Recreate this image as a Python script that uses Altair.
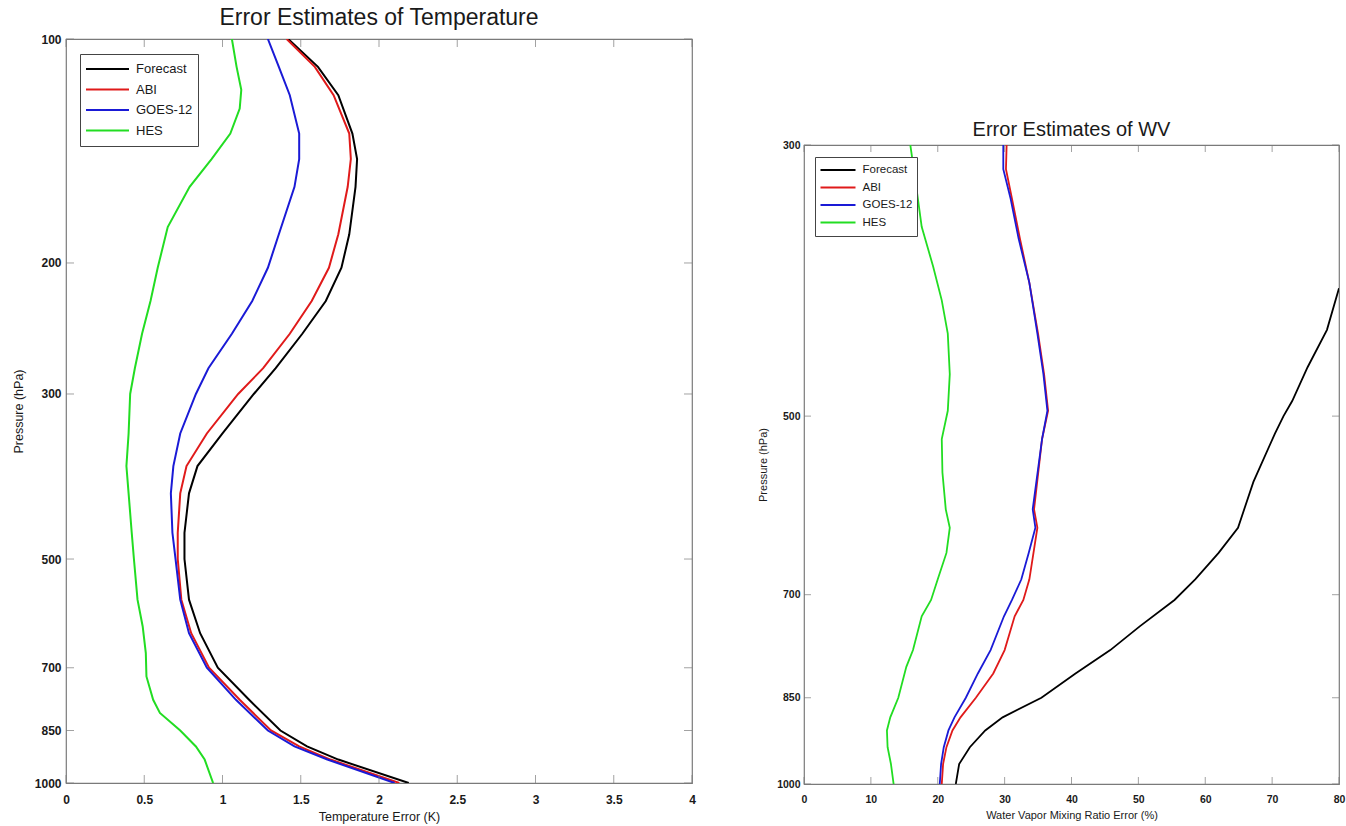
import altair as alt
import pandas as pd

SERIES = ["Forecast", "ABI", "GOES-12", "HES"]
COLORS = ["#000000", "#e01a1a", "#1a1ad6", "#22dd22"]

# ---------------- Temperature panel (error in K vs pressure hPa) ----------------
T_P = [100, 109, 119, 134, 145, 158, 183, 203, 225, 249, 277, 300, 339, 375,
       408, 461, 500, 567, 629, 700, 773, 850, 893, 930, 1000]
T_FORECAST = [1.42, 1.61, 1.74, 1.83, 1.86, 1.85, 1.81, 1.76, 1.66, 1.51, 1.34, 1.20, 1.00, 0.84,
              0.786, 0.757, 0.757, 0.786, 0.857, 0.97, 1.17, 1.37, 1.54, 1.74, 2.19]
T_ABI = [1.41, 1.59, 1.71, 1.81, 1.82, 1.80, 1.74, 1.68, 1.57, 1.43, 1.26, 1.10, 0.90, 0.77,
         0.73, 0.714, 0.714, 0.737, 0.80, 0.914, 1.11, 1.31, 1.49, 1.69, 2.13]
T_GOES = [1.29, 1.36, 1.43, 1.49, 1.49, 1.46, 1.36, 1.29, 1.19, 1.06, 0.91, 0.83, 0.73, 0.686,
          0.67, 0.68, 0.70, 0.73, 0.786, 0.90, 1.086, 1.29, 1.46, 1.67, 2.10]
T_HES_P = [100, 109, 117, 124, 134, 145, 158, 179, 203, 225, 249, 277, 300, 339, 375, 408,
           461, 500, 567, 616, 669, 719, 773, 805, 850, 893, 930, 1000]
T_HES = [1.06, 1.09, 1.12, 1.11, 1.05, 0.93, 0.79, 0.65, 0.586, 0.54, 0.486, 0.44, 0.41, 0.40,
         0.386, 0.40, 0.42, 0.434, 0.457, 0.49, 0.51, 0.514, 0.557, 0.60, 0.73, 0.83, 0.886, 0.94]
T_XTICKS = [0, 0.5, 1, 1.5, 2, 2.5, 3, 3.5, 4]
T_YTICKS = [100, 200, 300, 500, 700, 850, 1000]

# ---------------- Water vapour panel (error in % vs pressure hPa) ----------------
W_FORECAST_P = [393, 425, 456, 486, 500, 517, 566, 617, 647, 680, 707, 743, 777, 812, 850,
                882, 904, 933, 963, 1000]
W_FORECAST = [80, 78.2, 75.3, 73.0, 71.7, 70.4, 67.2, 64.9, 62.0, 58.5, 55.4, 50.2, 45.8, 40.6,
              35.5, 29.7, 27.1, 24.8, 23.2, 22.7]
W_ABI_P = [300, 314, 332, 358, 389, 428, 462, 495, 522, 596, 617, 680, 707, 729, 777, 812, 850,
           882, 904, 933, 963, 1000]
W_ABI = [30.3, 30.2, 31.1, 32.3, 33.7, 35.0, 35.9, 36.5, 35.6, 34.4, 34.9, 33.7, 32.8, 31.5,
         30.0, 28.3, 25.7, 23.4, 22.2, 21.3, 20.8, 20.6]
W_GOES_P = [300, 314, 332, 358, 389, 428, 462, 495, 522, 596, 617, 647, 680, 707, 729, 777,
            812, 850, 882, 904, 933, 963, 1000]
W_GOES = [29.8, 29.8, 30.9, 32.1, 33.7, 34.9, 35.8, 36.4, 35.6, 34.2, 34.6, 33.6, 32.5, 31.1,
          29.9, 27.9, 26.0, 24.2, 22.5, 21.6, 20.9, 20.5, 20.3]
W_HES_P = [300, 322, 350, 377, 402, 428, 462, 495, 522, 556, 596, 617, 647, 680, 707, 729, 777,
           802, 850, 882, 904, 933, 963, 1000]
W_HES = [15.9, 16.7, 17.6, 19.3, 20.6, 21.5, 21.8, 21.5, 20.6, 20.7, 21.2, 21.8, 21.3, 20.0,
         19.0, 17.6, 16.3, 15.3, 14.1, 12.9, 12.4, 12.5, 13.0, 13.4]
W_XTICKS = [0, 10, 20, 30, 40, 50, 60, 70, 80]
W_YTICKS = [300, 500, 700, 850, 1000]

FONT = "Liberation Sans"
FRAME = "#7a7a7a"
TEXT = "#1a1a1a"


def long_df(parts):
    rows = []
    for name, ps, vs in parts:
        for p, v in zip(ps, vs):
            rows.append({"series": name, "p": p, "err": v})
    return pd.DataFrame(rows)


def panel(df, xdom, xticks, yticks, title, xtitle, w, h, s):
    xs = alt.Scale(domain=xdom, nice=False, zero=False)
    ys = alt.Scale(type="log", domain=[yticks[0], yticks[-1]], reverse=True, nice=False)
    xaxis = alt.Axis(
        values=xticks, format=s["xfmt"], title=xtitle, grid=False, ticks=False, tickSize=0,
        domain=False, labelFlush=False, labelOverlap=False,
        labelFont=FONT, labelFontSize=s["lab"], labelFontWeight="bold", labelColor=TEXT,
        labelPadding=s["xlp"], titleFont=FONT, titleFontSize=s["tt"],
        titleFontWeight="normal", titleColor=TEXT, titlePadding=s["xtp"])
    yaxis = alt.Axis(
        values=yticks, format="d", title="Pressure (hPa)", grid=False, ticks=False,
        tickSize=0, domain=False, labelFlush=False, labelOverlap=False,
        labelFont=FONT, labelFontSize=s["lab"], labelFontWeight="bold", labelColor=TEXT,
        labelPadding=s["ylp"], titleFont=FONT, titleFontSize=s["tt"],
        titleFontWeight="normal", titleColor=TEXT, titlePadding=s["ytp"])
    lines = alt.Chart(df).mark_line(clip=True, strokeWidth=s["lw"]).encode(
        x=alt.X("err:Q", scale=xs, axis=xaxis),
        y=alt.Y("p:Q", scale=ys, axis=yaxis),
        color=alt.Color("series:N", scale=alt.Scale(domain=SERIES, range=COLORS),
                        sort=SERIES,
                        legend=alt.Legend(
                            title=None, orient="none", legendX=s["lx"], legendY=s["ly"],
                            symbolType="stroke", symbolSize=s["sym"] ** 2,
                            symbolStrokeWidth=2, clipHeight=s["ch"], rowPadding=0.5,
                            padding=s["pad"], labelOffset=6, labelFont=FONT,
                            labelFontSize=s["lf"], labelColor=TEXT, strokeColor="#444444",
                            fillColor="white", direction="vertical", labelLimit=300)),
        order="p:Q",
    )
    tk = s["tick"]
    ydf = pd.DataFrame({"p": yticks})
    xdf = pd.DataFrame({"err": xticks})
    layers = [lines]
    for xv, off in [(xdom[0], tk / 2), (xdom[1], -tk / 2)]:
        layers.append(alt.Chart(ydf).mark_tick(orient="horizontal", size=tk, thickness=1,
                                               color=FRAME, xOffset=off).encode(
            x=alt.X(datum=xv, scale=xs, axis=xaxis), y=alt.Y("p:Q", scale=ys, axis=yaxis)))
    for yv, off in [(yticks[0], tk / 2), (yticks[-1], -tk / 2)]:
        layers.append(alt.Chart(xdf).mark_tick(orient="vertical", size=tk, thickness=1,
                                               color=FRAME, yOffset=off).encode(
            x=alt.X("err:Q", scale=xs, axis=xaxis), y=alt.Y(datum=yv, scale=ys, axis=yaxis)))
    return alt.layer(*layers).properties(
        width=w, height=h,
        title=alt.TitleParams(title, font=FONT, fontSize=s["title"], fontWeight="normal",
                              color=TEXT, anchor="middle", baseline="alphabetic",
                              offset=s["toff"]),
        view=alt.ViewBackground(stroke=FRAME, strokeWidth=1.2),
    )


t_df = long_df([("Forecast", T_P, T_FORECAST), ("ABI", T_P, T_ABI),
                ("GOES-12", T_P, T_GOES), ("HES", T_HES_P, T_HES)])
w_df = long_df([("Forecast", W_FORECAST_P, W_FORECAST), ("ABI", W_ABI_P, W_ABI),
                ("GOES-12", W_GOES_P, W_GOES), ("HES", W_HES_P, W_HES)])

left = panel(t_df, [0, 4], T_XTICKS, T_YTICKS, "Error Estimates of Temperature",
             "Temperature Error (K)", 626, 744,
             dict(xfmt="~g", lw=2, lab=12, tt=12.5, xlp=11, xtp=5, ylp=5, ytp=9, lx=14, ly=15,
                  sym=43, ch=20, pad=5, lf=13, tick=8, title=23, toff=-14.5))
right = panel(w_df, [0, 80], W_XTICKS, W_YTICKS, "Error Estimates of WV",
              "Water Vapor Mixing Ratio Error (%)", 535, 639,
              dict(xfmt="d", lw=1.8, lab=10.5, tt=11, xlp=10, xtp=5, ylp=4, ytp=8, lx=11, ly=12,
                   sym=35, ch=17, pad=4.5, lf=11.5, tick=7, title=20, toff=-16))

spacer = alt.Chart(pd.DataFrame({"v": [0]})).mark_point(opacity=0).encode(
    x=alt.X("v:Q", axis=None), y=alt.Y("v:Q", axis=None)
).properties(width=535, height=80, view=alt.ViewBackground(stroke=None))

right_col = alt.vconcat(spacer, right, spacing=0).resolve_scale(
    color="independent").resolve_legend(color="independent")

chart = alt.hconcat(
    left, right_col, spacing=61
).resolve_scale(color="independent").resolve_legend(color="independent").properties(
    padding={"left": 11, "top": 5, "right": 0, "bottom": 0}
).configure_view(stroke=None)

chart.save("out.html", embed_options={"renderer": "svg", "actions": False})
